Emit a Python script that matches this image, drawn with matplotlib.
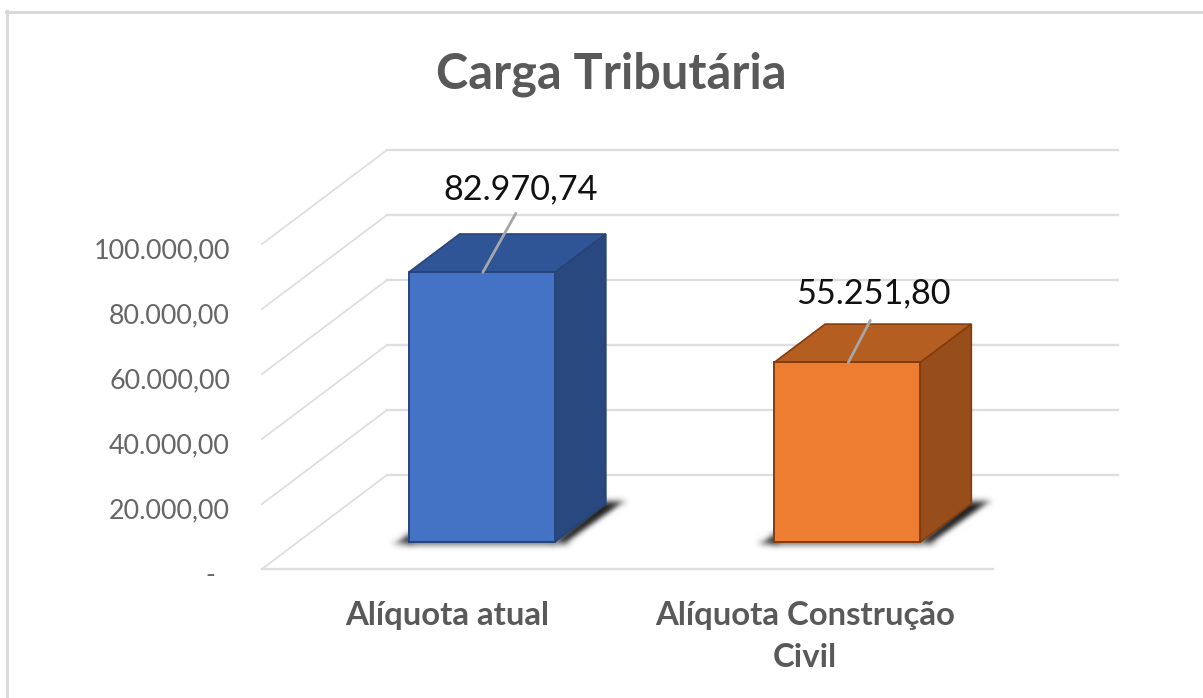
import matplotlib
matplotlib.use("Agg")
import matplotlib.pyplot as plt
import numpy as np
from matplotlib.lines import Line2D
from matplotlib.patches import Polygon
from matplotlib.transforms import ScaledTranslation

categories = ["Alíquota atual", "Alíquota Construção\nCivil"]
values = [82970.74, 55251.80]
value_labels = ["82.970,74", "55.251,80"]
y_ticks = [0, 20000, 40000, 60000, 80000, 100000]
y_tick_labels = ["-", "20.000,00", "40.000,00", "60.000,00", "80.000,00", "100.000,00"]

front_colors = ["#4472C4", "#ED7D31"]
top_colors = ["#2F5597", "#B55E22"]
side_colors = ["#2A4880", "#974E1A"]
edge_colors = ["#264478", "#843C0C"]

W, H = 1203, 698
# front floor edge runs 262..993 px, value 0 at y=569, 100000 at y=244
LEFT, RIGHT, BASE, TOP = 262, 993, 569, 244
# the box depth, in category units and value units
DX = 125 / 365.5
DY = 94 / 325 * 100000
BAR_WIDTH = 0.4
BAR_SHIFT = 0.003
BAR_D0, BAR_D1 = 0.287, 0.695
# pixel sizes of one data unit, for the shadow shapes
PX_X = 2 / (RIGHT - LEFT)
PX_Y = 100000 / (BASE - TOP)


def project(x, y, d):
    return (x + d * DX, y + d * DY)


def nudged(p, dx, dy):
    # dx right, dy up, both in pixels
    return (p[0] + dx * PX_X, p[1] + dy * PX_Y)


def blur(img, dpi, sigma=3.2):
    pad = int(sigma * 3)
    out = np.pad(img, ((pad, pad), (pad, pad), (0, 0)))
    kernel = np.exp(-np.arange(-pad, pad + 1) ** 2 / (2 * sigma**2))
    kernel /= kernel.sum()
    for axis in (0, 1):
        out = np.apply_along_axis(lambda m: np.convolve(m, kernel, "same"), axis, out)
    return out, -pad, -pad


fig = plt.figure(figsize=(W / 100, H / 100), dpi=100)
ax = fig.add_axes([LEFT / W, 1 - BASE / H, (RIGHT - LEFT) / W, (BASE - TOP) / H])
ax.set_xlim(0, 2)
ax.set_ylim(0, 100000)
ax.patch.set_visible(False)
for spine in ax.spines.values():
    spine.set_visible(False)

# chart frame, only top and left survive in the crop
fig.add_artist(Line2D([6.5 / W, 6.5 / W], [0, 1 - 11 / H], color="#DCDCDC", lw=2.2))
fig.add_artist(Line2D([5.5 / W, 1], [1 - 11.5 / H, 1 - 11.5 / H], color="#D9D9D9", lw=2.2))

# gridlines on side and back wall
for v in y_ticks:
    x0, y0 = project(0, v, 0)
    x1, y1 = project(0, v, 1)
    x2, y2 = project(2, v, 1)
    ax.plot([x0, x1], [y0, y1], color="#DEDEDE", lw=1.3, clip_on=False, zorder=1)
    ax.plot([x1, x2], [y1, y2], color="#DEDEDE", lw=1.7, clip_on=False, zorder=1)
ax.plot([0, 2], [0, 0], color="#DEDEDE", lw=1.7, clip_on=False, zorder=1)

for i, v in enumerate(values):
    x0 = i + 0.5 + BAR_SHIFT - BAR_WIDTH / 2
    x1 = i + 0.5 + BAR_SHIFT + BAR_WIDTH / 2

    fa = project(x0, 0, BAR_D0)
    fb = project(x1, 0, BAR_D0)
    fc = project(x1, v, BAR_D0)
    fd = project(x0, v, BAR_D0)
    bb = project(x1, 0, BAR_D1)
    bc = project(x1, v, BAR_D1)
    bd = project(x0, v, BAR_D1)

    # floor shadow: one wedge behind the side face, one left of the front, blurred
    side = [nudged(fb, -4, -1), nudged(fb, 11, -2), nudged(bb, 20, 2), nudged(bb, -4, 2)]
    left = [nudged(fa, 3, 10), nudged(fa, -16, -1), nudged(fa, 3, -2)]
    under = [nudged(fa, 0, 2), nudged(fb, 0, 2), nudged(fb, 0, -2), nudged(fa, 0, -2)]
    for pts in (side, left, under):
        shadow = Polygon(pts, closed=True, fc="#000000", ec="none", alpha=0.9,
                         clip_on=False, zorder=2)
        shadow.set_agg_filter(blur)
        ax.add_patch(shadow)

    ax.add_patch(Polygon([fd, fc, bc, bd], closed=True, fc=top_colors[i], ec=edge_colors[i],
                         lw=1.2, clip_on=False, zorder=3))
    ax.add_patch(Polygon([fb, bb, bc, fc], closed=True, fc=side_colors[i], ec=edge_colors[i],
                         lw=1.2, clip_on=False, zorder=3))
    ax.add_patch(Polygon([fa, fb, fc, fd], closed=True, fc=front_colors[i], ec=edge_colors[i],
                         lw=1.4, clip_on=False, zorder=4))

    # leader line and data label
    ax.annotate("", xy=((x0 + x1) / 2 + 0.003 + BAR_D0 * DX, v + BAR_D0 * DY),
                xytext=(33 if i == 0 else 22, 59 if i == 0 else 42), textcoords="offset pixels",
                arrowprops=dict(arrowstyle="-", color="#A6A6A6", lw=2, shrinkA=0, shrinkB=0),
                zorder=5, annotation_clip=False)
    ax.annotate(value_labels[i], xy=((x0 + x1) / 2 + BAR_D0 * DX, v + BAR_D0 * DY),
                xytext=(39 if i == 0 else 26, 83 if i == 0 else 69), textcoords="offset pixels",
                ha="center", va="center", fontsize=24.7, family="Lato", color="#111111",
                zorder=6, annotation_clip=False)

ax.set_yticks(y_ticks)
ax.set_yticklabels(y_tick_labels, fontsize=19.4, family="Lato", color="#666666")
ax.tick_params(axis="y", length=0, pad=23)
nudge = ScaledTranslation(0, -4 / 100, fig.dpi_scale_trans)
for lab in ax.get_yticklabels():
    lab.set_transform(lab.get_transform() + nudge)
# the accounting format leaves the dash short of the right edge
dash = ax.get_yticklabels()[0]
dash.set_transform(dash.get_transform() + ScaledTranslation(-15 / 100, 0, fig.dpi_scale_trans))

ax.set_xticks([0.5, 1.5])
ax.set_xticklabels(categories, fontsize=23.7, family="Lato", fontweight="bold", color="#595959",
                   linespacing=1.55)
ax.tick_params(axis="x", length=0, pad=23)
x_labels = ax.get_xticklabels()
x_labels[0].set_transform(x_labels[0].get_transform() + ScaledTranslation(2 / 100, 0, fig.dpi_scale_trans))
x_labels[1].set_transform(x_labels[1].get_transform() + ScaledTranslation(-5 / 100, 0, fig.dpi_scale_trans))

fig.text(611 / W, 1 - 74 / H, "Carga Tributária", ha="center", va="center", fontsize=35,
         family="Lato", fontweight="bold", color="#595959")

fig.savefig("out.png", dpi=100, facecolor="white")
